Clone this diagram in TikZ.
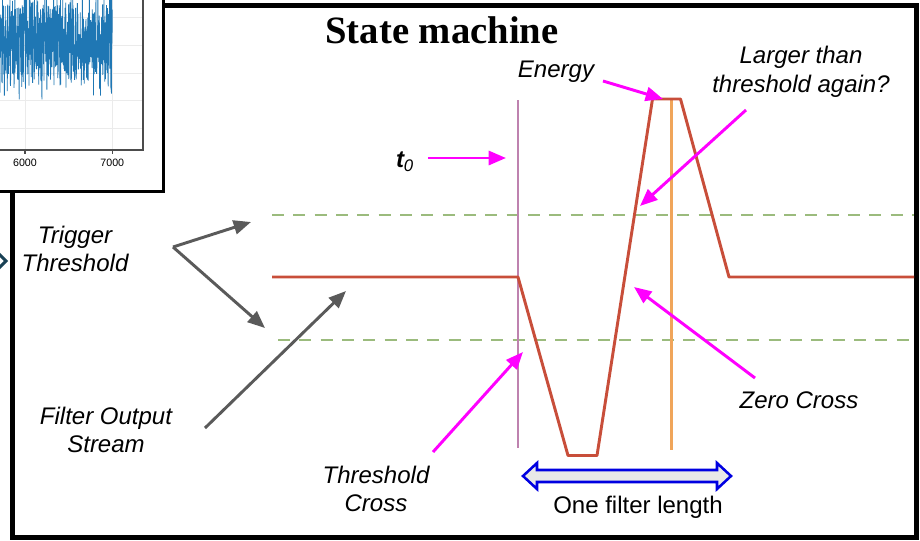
\documentclass[tikz,border=0pt]{standalone}
\usepackage{fontspec}
\setmainfont{Liberation Serif}
\setsansfont{Liberation Sans}
\usetikzlibrary{arrows.meta,positioning}

\definecolor{sigred}{RGB}{200,78,58}
\definecolor{thrgreen}{RGB}{155,187,125}
\definecolor{tzeromauve}{RGB}{190,130,175}
\definecolor{flenorange}{RGB}{240,165,90}
\definecolor{pointmag}{RGB}{255,0,255}
\definecolor{pointgray}{RGB}{90,90,90}
\definecolor{spanblue}{RGB}{0,0,225}
\definecolor{noiseblue}{RGB}{31,119,180}
\definecolor{chevteal}{RGB}{25,65,85}

\begin{document}
\begin{tikzpicture}[x=0.75pt, y=-0.75pt,
    label/.style={font=\sffamily\itshape\fontsize{18}{21.5}\selectfont, align=center, inner sep=0pt},
    plainlabel/.style={font=\sffamily\fontsize{18}{21.5}\selectfont, inner sep=0pt},
    signal/.style={draw=sigred, line width=2.2pt, line join=round},
    thr/.style={draw=thrgreen, line width=2.2pt, dash pattern=on 9pt off 7pt},
    marker/.style={line width=1.9pt},
    magarrow/.style={draw=pointmag, line width=2.2pt, -{Triangle[length=13pt,width=10.5pt]}},
    grayarrow/.style={draw=pointgray, line width=2.2pt, -{Triangle[length=13pt,width=10.5pt]}},
    noise/.style={draw=noiseblue, line width=0.6pt},
    grid line/.style={draw=black!8, line width=0.6pt}
]
\useasboundingbox (0,0) rectangle (920,540);

% Main frame
\draw[line width=3.75pt] (12.5,5) rectangle (916.5,537.5);

% Inset plot (top left)
\draw[fill=white, line width=2.6pt] (-10,-10) rectangle (163.5,191.5);
\foreach \gy in {17,45,73,100,128}
    \draw[grid line] (-10,\gy) -- (143,\gy);
\foreach \gx in {25,112.3}
    \draw[grid line] (\gx,-10) -- (\gx,150);
\begin{scope}
    \clip (-10,-10) rectangle (143,150);
    \pgfmathsetseed{7}
    \draw[noise] plot[domain=-8:112.3, samples=700] (\x,{42+35*rand+25*rand});
\end{scope}
\draw[draw=black!70, line width=0.8pt] (-10,150) -- (143,150) -- (143,-10);
\foreach \gx/\tick in {25/6000,112.3/7000} {
    \draw[draw=black!70, line width=0.8pt] (\gx,150) -- (\gx,154);
    \node[font=\sffamily\fontsize{8}{9}\selectfont, inner sep=0pt] (tick\tick) at (\gx,163) {\tick};
}

% Chevron at left edge
\draw[draw=chevteal, line width=2.3pt] (-1,254) -- (6,261) -- (-1,268);

% Title
\node[font=\bfseries\fontsize{29}{32}\selectfont, inner sep=0pt] (title) at (442,30) {State machine};

% Threshold levels
\draw[thr] (272,215) -- (914,215);
\draw[thr] (278,340) -- (914,340);

% Time markers
\draw[marker, draw=tzeromauve] (518,100) -- (518,448);
\draw[marker, draw=flenorange] (671.5,100) -- (671.5,450);

% Filter output
\draw[signal] (272,277) -- (518,277) -- (568,455.5) -- (597,455.5) -- (652.5,99) -- (680.5,99) -- (729,277) -- (914,277);

% One filter length span
\draw[draw=spanblue, fill=black!9, line width=1.9pt, line join=miter]
    (523,476) -- (537,463) -- (537,470) -- (717,470) -- (717,463) -- (731,476)
    -- (717,489) -- (717,482) -- (537,482) -- (537,489) -- cycle;
\node[plainlabel] (span) at (638,507) {One filter length};

% Labels
\node[label] (trig) at (75,249) {Trigger\\Threshold};
\node[label] (filt) at (106,430) {Filter Output\\Stream};
\node[label] (tzero) at (405,162) {\textbf{t}\textsubscript{\textit{0}}};
\node[label] (energy) at (556,72) {Energy};
\node[label] (again) at (801,72) {Larger than\\threshold again?};
\node[label] (zcross) at (799,400) {Zero Cross};
\node[label] (tcross) at (376,489) {Threshold\\Cross};

% Pointers
\coordinate (trigfork) at (173,247);
\coordinate (trighi) at (251,222);
\coordinate (triglo) at (265,328);
\draw[grayarrow] (trigfork) -- (trighi);
\draw[grayarrow] (trigfork) -- (triglo);

\coordinate (filttail) at (205,428);
\coordinate (filthead) at (346,291);
\draw[grayarrow] (filttail) -- (filthead);

\coordinate (tzerotail) at (428,158);
\coordinate (tzerohead) at (506,158);
\draw[magarrow] (tzerotail) -- (tzerohead);

\coordinate (energytail) at (603,81);
\coordinate (energyhead) at (663,99);
\draw[magarrow] (energytail) -- (energyhead);

\coordinate (againtail) at (746,110);
\coordinate (againhead) at (640,206);
\draw[magarrow] (againtail) -- (againhead);

\coordinate (zcrosstail) at (755,378);
\coordinate (zcrosshead) at (634,287);
\draw[magarrow] (zcrosstail) -- (zcrosshead);

\coordinate (tcrosstail) at (433,452);
\coordinate (tcrosshead) at (523,352);
\draw[magarrow] (tcrosstail) -- (tcrosshead);

\end{tikzpicture}
\end{document}
